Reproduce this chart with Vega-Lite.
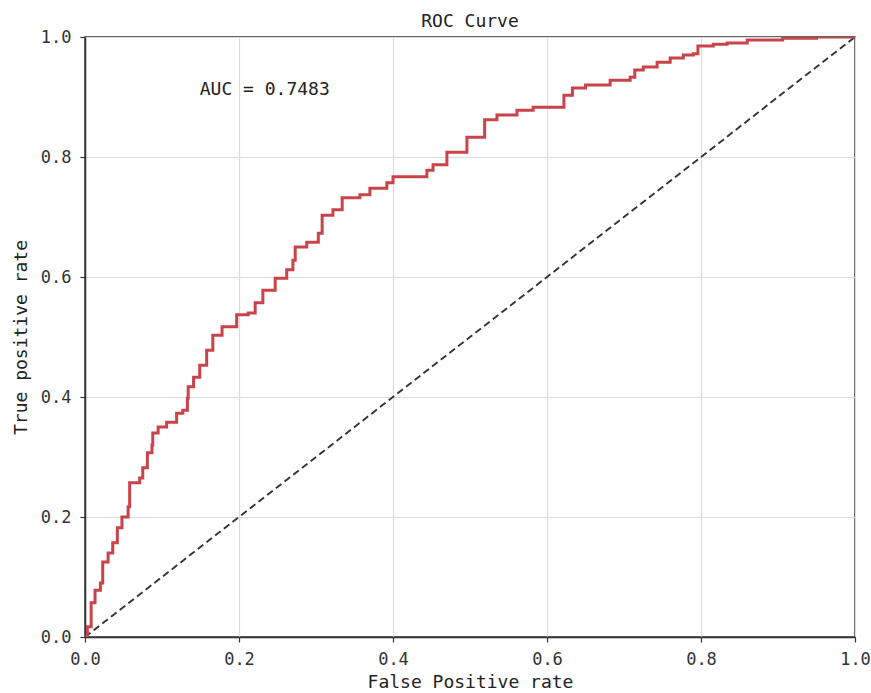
{
  "$schema": "https://vega.github.io/schema/vega-lite/v6.json",
  "autosize": {"type": "none"},
  "padding": {"left": 85, "top": 37, "right": 16, "bottom": 56},
  "width": 770,
  "height": 600,
  "background": "white",
  "title": {"text": "ROC Curve", "font": "DejaVu Sans Mono", "fontSize": 18, "fontWeight": "normal", "color": "#222", "offset": -3},
  "config": {
    "view": {"stroke": "#333", "strokeWidth": 1.5},
    "axis": {
      "labelFont": "DejaVu Sans Mono", "labelFontSize": 17, "labelColor": "#333",
      "titleFont": "DejaVu Sans Mono", "titleFontSize": 18, "titleFontWeight": "normal", "titleColor": "#222",
      "domainColor": "#333", "domainWidth": 1.5, "tickColor": "#333", "tickSize": 5, "tickWidth": 1.2,
      "gridColor": "#dcdcdc", "gridWidth": 1.2, "labelFlush": false, "labelOverlap": false
    }
  },
  "datasets": {
    "roc": [
      {"fpr": 0, "tpr": 0},
      {"fpr": 0.003, "tpr": 0.017},
      {"fpr": 0.008, "tpr": 0.057},
      {"fpr": 0.013, "tpr": 0.078},
      {"fpr": 0.02, "tpr": 0.09},
      {"fpr": 0.023, "tpr": 0.125},
      {"fpr": 0.03, "tpr": 0.14},
      {"fpr": 0.036, "tpr": 0.157},
      {"fpr": 0.042, "tpr": 0.182},
      {"fpr": 0.048, "tpr": 0.2},
      {"fpr": 0.056, "tpr": 0.217},
      {"fpr": 0.058, "tpr": 0.257},
      {"fpr": 0.071, "tpr": 0.265},
      {"fpr": 0.075, "tpr": 0.282},
      {"fpr": 0.081, "tpr": 0.307},
      {"fpr": 0.087, "tpr": 0.32},
      {"fpr": 0.088, "tpr": 0.34},
      {"fpr": 0.095, "tpr": 0.35},
      {"fpr": 0.106, "tpr": 0.358},
      {"fpr": 0.119, "tpr": 0.373},
      {"fpr": 0.127, "tpr": 0.378},
      {"fpr": 0.133, "tpr": 0.398},
      {"fpr": 0.134, "tpr": 0.417},
      {"fpr": 0.141, "tpr": 0.433},
      {"fpr": 0.149, "tpr": 0.453},
      {"fpr": 0.158, "tpr": 0.478},
      {"fpr": 0.166, "tpr": 0.503},
      {"fpr": 0.178, "tpr": 0.517},
      {"fpr": 0.197, "tpr": 0.537},
      {"fpr": 0.212, "tpr": 0.54},
      {"fpr": 0.221, "tpr": 0.557},
      {"fpr": 0.231, "tpr": 0.578},
      {"fpr": 0.247, "tpr": 0.598},
      {"fpr": 0.262, "tpr": 0.612},
      {"fpr": 0.27, "tpr": 0.628},
      {"fpr": 0.273, "tpr": 0.65},
      {"fpr": 0.288, "tpr": 0.658},
      {"fpr": 0.303, "tpr": 0.673},
      {"fpr": 0.308, "tpr": 0.703},
      {"fpr": 0.322, "tpr": 0.712},
      {"fpr": 0.334, "tpr": 0.732},
      {"fpr": 0.357, "tpr": 0.737},
      {"fpr": 0.37, "tpr": 0.748},
      {"fpr": 0.392, "tpr": 0.757},
      {"fpr": 0.4, "tpr": 0.767},
      {"fpr": 0.44, "tpr": 0.767},
      {"fpr": 0.444, "tpr": 0.778},
      {"fpr": 0.452, "tpr": 0.787},
      {"fpr": 0.47, "tpr": 0.808},
      {"fpr": 0.496, "tpr": 0.833},
      {"fpr": 0.516, "tpr": 0.833},
      {"fpr": 0.519, "tpr": 0.862},
      {"fpr": 0.535, "tpr": 0.87},
      {"fpr": 0.561, "tpr": 0.878},
      {"fpr": 0.582, "tpr": 0.883},
      {"fpr": 0.62, "tpr": 0.883},
      {"fpr": 0.622, "tpr": 0.903},
      {"fpr": 0.633, "tpr": 0.915},
      {"fpr": 0.65, "tpr": 0.92},
      {"fpr": 0.666, "tpr": 0.92},
      {"fpr": 0.682, "tpr": 0.928},
      {"fpr": 0.708, "tpr": 0.933},
      {"fpr": 0.714, "tpr": 0.945},
      {"fpr": 0.725, "tpr": 0.95},
      {"fpr": 0.743, "tpr": 0.958},
      {"fpr": 0.76, "tpr": 0.965},
      {"fpr": 0.777, "tpr": 0.97},
      {"fpr": 0.79, "tpr": 0.972},
      {"fpr": 0.796, "tpr": 0.985},
      {"fpr": 0.816, "tpr": 0.988},
      {"fpr": 0.834, "tpr": 0.99},
      {"fpr": 0.86, "tpr": 0.995},
      {"fpr": 0.906, "tpr": 0.998},
      {"fpr": 0.95, "tpr": 1.0},
      {"fpr": 1.0, "tpr": 1.0}
    ],
    "diag": [{"fpr": 0, "tpr": 0}, {"fpr": 1, "tpr": 1}],
    "note": [{"fpr": 0.149, "tpr": 0.912, "label": "AUC = 0.7483"}]
  },
  "layer": [
    {
      "data": {"name": "diag"},
      "mark": {"type": "line", "color": "#333", "strokeWidth": 1.9, "strokeDash": [7, 4], "clip": true},
      "encoding": {
        "x": {"field": "fpr", "type": "quantitative", "scale": {"domain": [0, 1], "nice": false}, "title": "False Positive rate", "axis": {"grid": true, "values": [0, 0.2, 0.4, 0.6, 0.8, 1.0], "format": ".1f", "labelPadding": 9, "titlePadding": 6}},
        "y": {"field": "tpr", "type": "quantitative", "scale": {"domain": [0, 1], "nice": false}, "title": "True positive rate", "axis": {"grid": true, "values": [0, 0.2, 0.4, 0.6, 0.8, 1.0], "format": ".1f", "labelPadding": 9, "titlePadding": 10}}
      }
    },
    {
      "data": {"name": "roc"},
      "mark": {"type": "line", "color": "#c8434a", "strokeWidth": 3, "interpolate": "step-after", "clip": true},
      "encoding": {
        "x": {"field": "fpr", "type": "quantitative"},
        "y": {"field": "tpr", "type": "quantitative"}
      }
    },
    {
      "data": {"name": "note"},
      "mark": {"type": "text", "align": "left", "baseline": "middle", "font": "DejaVu Sans Mono", "fontSize": 18, "color": "#222"},
      "encoding": {
        "x": {"field": "fpr", "type": "quantitative"},
        "y": {"field": "tpr", "type": "quantitative"},
        "text": {"field": "label"}
      }
    }
  ]
}
